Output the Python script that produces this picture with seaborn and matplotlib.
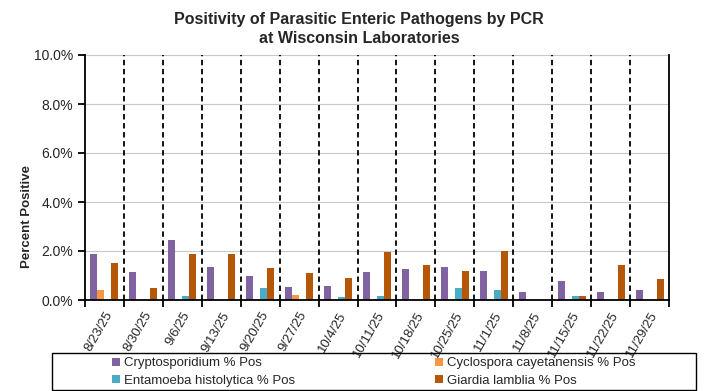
import pandas as pd
import matplotlib.pyplot as plt
import matplotlib.ticker as mticker
from matplotlib.patches import Rectangle
import seaborn as sns

weeks = ['8/23/25', '8/30/25', '9/6/25', '9/13/25', '9/20/25', '9/27/25', '10/4/25',
         '10/11/25', '10/18/25', '10/25/25', '11/1/25', '11/8/25', '11/15/25',
         '11/22/25', '11/29/25']
crypto = [1.88, 1.14, 2.45, 1.35, 0.98, 0.53, 0.57, 1.14, 1.27, 1.35, 1.18, 0.33, 0.78, 0.33, 0.41]
cyclo = [0.41, 0, 0, 0, 0, 0.20, 0, 0, 0, 0, 0, 0, 0, 0, 0]
entamoeba = [0, 0, 0.16, 0, 0.49, 0, 0.12, 0.16, 0, 0.49, 0.41, 0, 0.16, 0, 0]
giardia = [1.51, 0.49, 1.88, 1.88, 1.31, 1.10, 0.90, 1.96, 1.43, 1.18, 2.00, 0, 0.16, 1.43, 0.86]

series = {
    'Cryptosporidium % Pos': crypto,
    'Cyclospora cayetanensis % Pos': cyclo,
    'Entamoeba histolytica % Pos': entamoeba,
    'Giardia lamblia % Pos': giardia,
}
colors = ['#8064A2', '#F79646', '#4BACC6', '#B65708']

rows = []
for name, vals in series.items():
    for w, v in zip(weeks, vals):
        rows.append({'week': w, 'pathogen': name, 'pct': v})
df = pd.DataFrame(rows)

sns.set_style('white')
plt.rcParams['font.family'] = ['Liberation Sans', 'DejaVu Sans']

fig = plt.figure(figsize=(7.04, 3.91), dpi=100)
ax = fig.add_axes([85 / 704, 91 / 391, 584 / 704, 245 / 391])

sns.barplot(data=df, x='week', y='pct', hue='pathogen', palette=colors,
            width=0.72, gap=0, saturation=1, linewidth=0, ax=ax, legend=True)

ax.set_ylim(0, 10)
ax.set_xlim(-0.5, len(weeks) - 0.5)
ax.yaxis.set_major_locator(mticker.MultipleLocator(2))
ax.yaxis.set_major_formatter(mticker.FuncFormatter(lambda v, p: f'{v:.1f}%'))
ax.grid(axis='y', color='#C8C8C8', linewidth=0.8)
ax.set_axisbelow(True)

for i in range(len(weeks) - 1):
    ax.axvline(i + 0.5, color='black', linestyle=(0, (3, 2)), linewidth=1.3, zorder=1)

for s in ['left', 'bottom', 'right']:
    ax.spines[s].set_color('black')
    ax.spines[s].set_linewidth(1.3)
ax.spines['top'].set_visible(False)

ax.set_xticks(range(len(weeks)))
ax.set_xticklabels(weeks, rotation=60, ha='right', rotation_mode='anchor', fontsize=9.5)
ax.set_xticks([i - 0.5 for i in range(len(weeks) + 1)], minor=True)
ax.tick_params(axis='x', which='major', length=0, pad=7)
ax.tick_params(axis='x', which='minor', length=5, width=1.3, color='black', direction='out', bottom=True)
ax.tick_params(axis='y', length=5, width=1.3, color='black', direction='out', left=True, labelsize=10)

ax.set_xlabel('')
ax.set_ylabel('Percent Positive', fontsize=9.5, fontweight='bold', va='center')
ax.yaxis.set_label_coords(-58 / 584, 84 / 245)
fig.suptitle('Positivity of Parasitic Enteric Pathogens by PCR\nat Wisconsin Laboratories',
             x=359 / 704, y=1 - 12 / 391, va='top', fontsize=11.5, fontweight='bold',
             linespacing=1.3)

handles, labels = ax.get_legend_handles_labels()
ax.get_legend().remove()
order = [0, 2, 1, 3]
fig.legend([handles[i] for i in order], [labels[i] for i in order], ncol=2,
           loc='center', bbox_to_anchor=(374 / 704, 1 - 372 / 391),
           frameon=False, fontsize=9.5, handlelength=0.55, handleheight=0.55,
           handletextpad=0.35, borderpad=0, labelspacing=0.42, columnspacing=10.6)
fig.patches.append(Rectangle((52 / 704, 1 / 391), 644 / 704, 37 / 391,
                             transform=fig.transFigure, fill=False,
                             edgecolor='black', linewidth=1.0))

fig.savefig('out.png', dpi=100)
